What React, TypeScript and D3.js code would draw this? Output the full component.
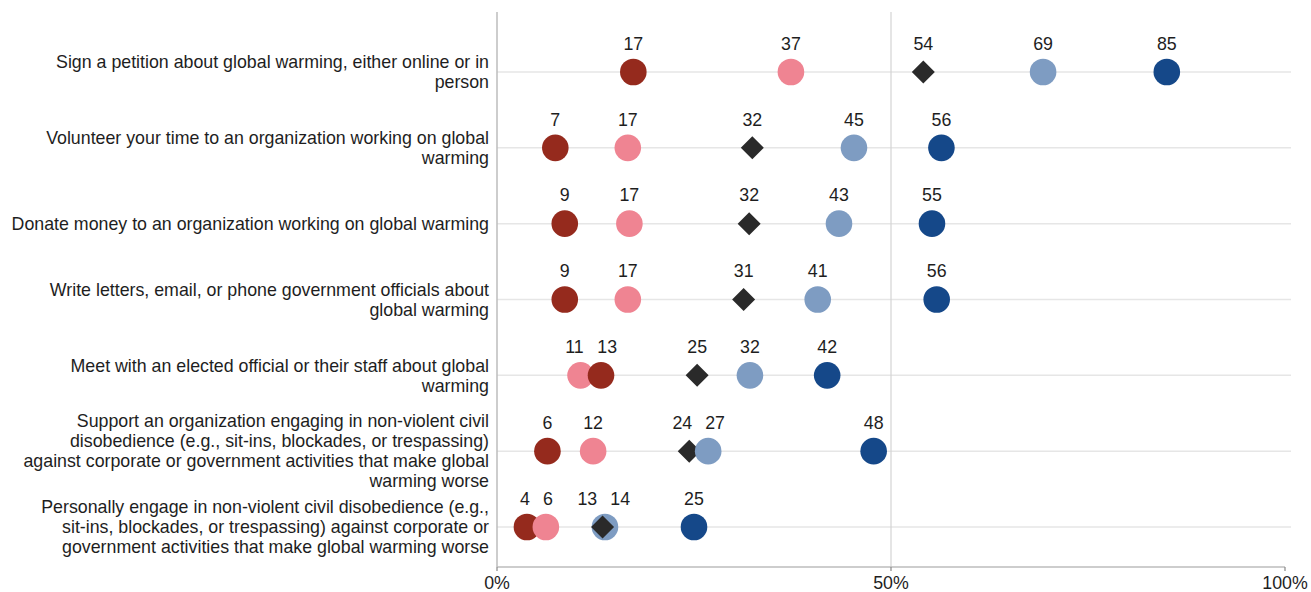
import React from "react";
import * as d3 from "d3";

const categories = [
  "Sign a petition about global warming, either online or in\nperson",
  "Volunteer your time to an organization working on global\nwarming",
  "Donate money to an organization working on global warming",
  "Write letters, email, or phone government officials about\nglobal warming",
  "Meet with an elected official or their staff about global\nwarming",
  "Support an organization engaging in non-violent civil\ndisobedience (e.g., sit-ins, blockades, or trespassing)\nagainst corporate or government activities that make global\nwarming worse",
  "Personally engage in non-violent civil disobedience (e.g.,\nsit-ins, blockades, or trespassing) against corporate or\ngovernment activities that make global warming worse",
];

// percentages (labels show them rounded)
const seriesDarkRed = [17.3, 7.4, 8.6, 8.6, 13.2, 6.4, 3.8];
const seriesPink = [37.3, 16.6, 16.8, 16.6, 10.6, 12.2, 6.2];
const seriesDiamond = [54.1, 32.4, 32.0, 31.3, 25.4, 24.4, 13.4];
const seriesLightBlue = [69.3, 45.3, 43.4, 40.7, 32.1, 26.8, 13.7];
const seriesDarkBlue = [85.0, 56.4, 55.2, 55.8, 41.9, 47.8, 25.0];

const xTicks = [0, 50, 100];

const series = [
  { key: "darkred", values: seriesDarkRed, color: "#952a1d", shape: "circle" },
  { key: "pink", values: seriesPink, color: "#ef8492", shape: "circle" },
  { key: "diamond", values: seriesDiamond, color: "#2a2a2a", shape: "diamond" },
  { key: "lightblue", values: seriesLightBlue, color: "#7e9cc2", shape: "circle" },
  { key: "darkblue", values: seriesDarkBlue, color: "#154889", shape: "circle" },
];

const W = 1311;
const H = 592;
const M = { left: 497, right: 26, top: 12, bottom: 25 };
const FS = 17.8;

function layoutLabels(items: { x: number; w: number }[]) {
  const pad = 13;
  const pos = items.map((d) => d.x);
  const order = items.map((_, i) => i).sort((a, b) => pos[a] - pos[b]);
  for (let it = 0; it < 30; it++) {
    let moved = false;
    for (let k = 0; k < order.length - 1; k++) {
      const a = order[k];
      const b = order[k + 1];
      const need = (items[a].w + items[b].w) / 2 + pad;
      const gap = pos[b] - pos[a];
      if (gap < need - 0.01) {
        const s = (need - gap) / 2;
        pos[a] -= s;
        pos[b] += s;
        moved = true;
      }
    }
    if (!moved) break;
  }
  return pos;
}

export default function App() {
  const x = d3.scaleLinear().domain([0, 100]).range([M.left, W - M.right]);
  const y = d3.scalePoint<string>().domain(categories).range([72, 527]);
  const bottomY = H - M.bottom;
  const font = "'Liberation Sans', Arial, sans-serif";
  const dh = 11.5;
  const diamond = `M0,${-dh}L${dh},0L0,${dh}L${-dh},0Z`;
  const txt = "#1e1e1e";

  return (
    <svg
      width={W}
      height={H}
      style={{ position: "absolute", left: 0, top: 0, background: "#fff" }}
      fontFamily={font}
    >
      {categories.map((c) => (
        <line
          key={"g" + c}
          x1={M.left}
          x2={W - 20}
          y1={y(c)}
          y2={y(c)}
          stroke="#e6e6e6"
          strokeWidth={1.5}
        />
      ))}
      <line x1={x(50)} x2={x(50)} y1={M.top} y2={bottomY} stroke="#d4d4d4" strokeWidth={1.2} />
      <line x1={M.left} x2={M.left} y1={M.top} y2={bottomY} stroke="#bdbdbd" strokeWidth={1.5} />
      <line x1={M.left} x2={x(100)} y1={bottomY} y2={bottomY} stroke="#bdbdbd" strokeWidth={1.5} />
      {xTicks.map((t) => (
        <g key={"t" + t}>
          <line x1={x(t)} x2={x(t)} y1={bottomY} y2={bottomY + 4} stroke="#888" strokeWidth={1.2} />
          <text x={x(t)} y={bottomY + 22} textAnchor="middle" fontSize={FS} fill={txt}>
            {t + "%"}
          </text>
        </g>
      ))}
      {categories.map((c) => {
        const lines = c.split("\n");
        const lh = 20;
        const y0 = (y(c) as number) - ((lines.length - 1) * lh) / 2;
        return (
          <text key={"l" + c} textAnchor="end" fontSize={FS} fill={txt}>
            {lines.map((ln, i) => (
              <tspan key={i} x={489} y={y0 + i * lh} dy="0.35em">
                {ln}
              </tspan>
            ))}
          </text>
        );
      })}
      {categories.map((c, ri) => {
        const pts = series.map((s) => ({ ...s, v: s.values[ri] }));
        // draw order: by value, with the diamond lifted above near-equal circles
        const drawn = [...pts].sort(
          (a, b) => a.v + (a.shape === "diamond" ? 0.5 : 0) - (b.v + (b.shape === "diamond" ? 0.5 : 0))
        );
        const cy = y(c) as number;
        const labs = pts.map((p) => {
          const s = String(Math.round(p.v));
          return { x: x(p.v), w: s.length * FS * 0.556, s };
        });
        const lx = layoutLabels(labs);
        return (
          <g key={"r" + c}>
            {drawn.map((p) =>
              p.shape === "circle" ? (
                <circle key={p.key} cx={x(p.v)} cy={cy} r={13.3} fill={p.color} />
              ) : (
                <path key={p.key} d={diamond} transform={`translate(${x(p.v)},${cy})`} fill={p.color} />
              )
            )}
            {labs.map((l, i) => (
              <text
                key={"v" + i}
                x={lx[i]}
                y={cy - 28.5}
                textAnchor="middle"
                fontSize={FS}
                fill={txt}
                dy="0.35em"
              >
                {l.s}
              </text>
            ))}
          </g>
        );
      })}
    </svg>
  );
}
